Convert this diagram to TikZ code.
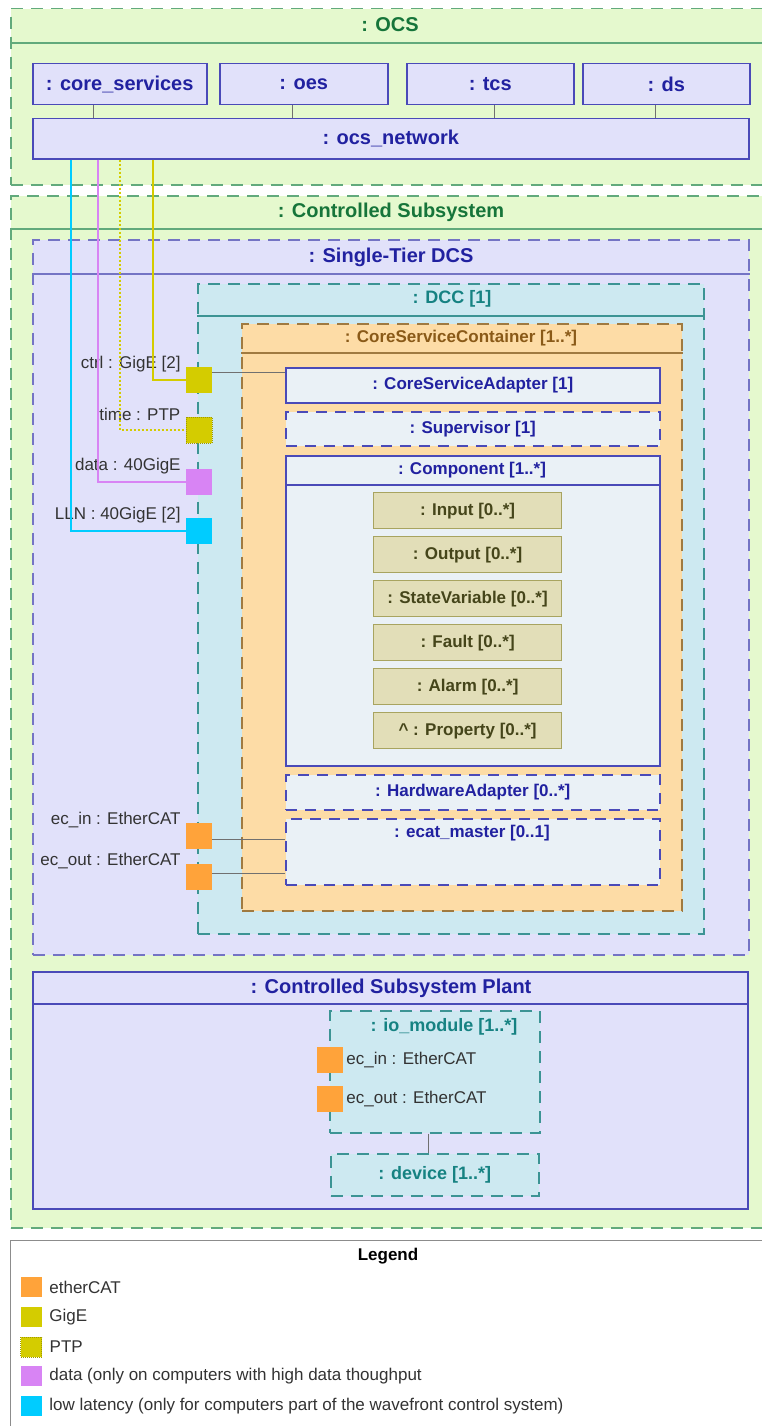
\documentclass[tikz,border=0pt]{standalone}
\usepackage{fontspec}
\setmainfont{Liberation Sans}
\usepackage{tikz}
\usetikzlibrary{positioning}

% colours
\definecolor{ocsfill}{HTML}{E5F9CE}
\definecolor{ocsedge}{HTML}{62AA7C}
\definecolor{ocstext}{HTML}{16753A}
\definecolor{dcsfill}{HTML}{E1E1FA}
\definecolor{dcsedge}{HTML}{7474C4}
\definecolor{dcstext}{HTML}{2121A0}
\definecolor{dccfill}{HTML}{CDE9F1}
\definecolor{dccedge}{HTML}{3C9494}
\definecolor{dcctext}{HTML}{168282}
\definecolor{cscfill}{HTML}{FDDCA6}
\definecolor{cscedge}{HTML}{A07A40}
\definecolor{csctext}{HTML}{8A5A18}
\definecolor{partfill}{HTML}{EAF1F6}
\definecolor{partedge}{HTML}{4A4AB8}
\definecolor{propfill}{HTML}{E2DEB8}
\definecolor{propedge}{HTML}{A8A460}
\definecolor{proptext}{HTML}{45451A}
\definecolor{gigecol}{HTML}{D4CC00}
\definecolor{datacol}{HTML}{D884F4}
\definecolor{llncol}{HTML}{00CCFF}
\definecolor{ecatcol}{HTML}{FFA33A}
\definecolor{linkgrey}{HTML}{707070}
\definecolor{lbltext}{HTML}{333333}
\definecolor{legedge}{HTML}{8C8C8C}

% fonts
\newcommand{\ttltop}{\bfseries\fontsize{20}{24}\selectfont}
\newcommand{\ttlmid}{\bfseries\fontsize{17}{20}\selectfont}
\newcommand{\ttlteal}{\bfseries\fontsize{18}{21}\selectfont}
\newcommand{\lblfont}{\fontsize{17}{20}\selectfont}

\begin{document}
\begin{tikzpicture}[x=1pt,y=-1pt,
	boxframe/.style={rectangle,anchor=north west,inner sep=0pt,line width=1.5pt},
	dashframe/.style={boxframe,dash pattern=on 12pt off 8pt},
	ocsframe/.style={dashframe,draw=ocsedge,fill=ocsfill},
	dcsframe/.style={dashframe,draw=dcsedge,fill=dcsfill},
	dccframe/.style={dashframe,draw=dccedge,fill=dccfill},
	cscframe/.style={dashframe,draw=cscedge,fill=cscfill},
	toppart/.style={boxframe,draw=partedge,fill=dcsfill,text=dcstext,font=\ttltop},
	partbox/.style={boxframe,draw=partedge,fill=partfill,text=dcstext,font=\ttlmid},
	partdash/.style={partbox,dash pattern=on 11pt off 8pt},
	propbox/.style={boxframe,line width=1.2pt,draw=propedge,fill=propfill,text=proptext,font=\ttlmid,minimum width=188pt,minimum height=36pt},
	portsq/.style={rectangle,inner sep=0pt,minimum size=26pt},
	portlbl/.style={inner sep=0pt,text=lbltext,font=\lblfont},
	link/.style={draw=linkgrey,line width=1pt},
	gigeline/.style={draw=gigecol,line width=2.5pt},
	ptpline/.style={draw=gigecol,line width=2.5pt,dash pattern=on 2pt off 2pt},
	dataline/.style={draw=datacol,line width=2.5pt},
	llnline/.style={draw=llncol,line width=2.5pt},
	keysq/.style={rectangle,inner sep=0pt,minimum width=21pt,minimum height=20pt},
	ecatkey/.style={fill=ecatcol},
	gigekey/.style={fill=gigecol},
	ptpkey/.style={fill=gigecol,draw=gigecol!75!black,densely dotted,line width=1pt},
	datakey/.style={fill=datacol},
	llnkey/.style={fill=llncol}]

	\useasboundingbox (0,0) rectangle (761,1426);

	% OCS

	\node[ocsframe,minimum width=758pt,minimum height=176pt] (ocs) at (10,8) {};
	\draw[ocsedge,line width=1.5pt] ([yshift=-35pt]ocs.north west) -- ([yshift=-35pt]ocs.north east);
	\node[font=\ttltop,text=ocstext] (ocstitle) at (390,25) {: OCS};

	\node[toppart,minimum width=174pt,minimum height=41pt] (core) at (32,63) {: core\_services};
	\node[toppart,minimum width=168pt,minimum height=41pt] (oes) at (219,63) {: oes};
	\node[toppart,minimum width=167pt,minimum height=41pt] (tcs) at (406,63) {: tcs};
	\node[toppart,minimum width=167pt,minimum height=41pt] (ds) at (582,63) {: ds};
	\node[toppart,minimum width=716pt,minimum height=40pt] (net) at (32,118) {: ocs\_network};

	\draw[link] (93,0 |- core.south) -- (93,0 |- net.north);
	\draw[link] (292,0 |- oes.south) -- (292,0 |- net.north);
	\draw[link] (494,0 |- tcs.south) -- (494,0 |- net.north);
	\draw[link] (655,0 |- ds.south) -- (655,0 |- net.north);

	% Controlled Subsystem

	\node[ocsframe,minimum width=758pt,minimum height=1032pt] (ctrlsub) at (10,195) {};
	\draw[ocsedge,line width=1.5pt] ([yshift=-34pt]ctrlsub.north west) -- ([yshift=-34pt]ctrlsub.north east);
	\node[font=\ttltop,text=ocstext] (ctrlsubtitle) at (391,212) {: Controlled Subsystem};

	% Single-Tier DCS

	\node[dcsframe,minimum width=716pt,minimum height=715pt] (dcs) at (32,239) {};
	\draw[dcsedge,line width=1.5pt] ([yshift=-35pt]dcs.north west) -- ([yshift=-35pt]dcs.north east);
	\node[font=\ttltop,text=dcstext] (dcstitle) at (391,257) {: Single-Tier DCS};

	\node[dccframe,minimum width=506pt,minimum height=650pt] (dcc) at (197,283) {};
	\draw[dccedge,line width=1.5pt] ([yshift=-33pt]dcc.north west) -- ([yshift=-33pt]dcc.north east);
	\node[font=\ttlteal,text=dcctext] (dcctitle) at (452,299) {: DCC [1]};

	\node[cscframe,minimum width=440pt,minimum height=587pt] (csc) at (241,323) {};
	\draw[cscedge,line width=1.5pt] ([yshift=-30pt]csc.north west) -- ([yshift=-30pt]csc.north east);
	\node[font=\ttlmid,text=csctext] (csctitle) at (461,338) {: CoreServiceContainer [1..*]};

	\node[partbox,minimum width=374pt,minimum height=35pt] (csa) at (285,367) {: CoreServiceAdapter [1]};
	\node[partdash,minimum width=374pt,minimum height=34pt] (sup) at (285,411) {: Supervisor [1]};

	\node[partbox,minimum width=374pt,minimum height=310pt] (comp) at (285,455) {};
	\draw[partedge,line width=1.5pt] ([yshift=-30pt]comp.north west) -- ([yshift=-30pt]comp.north east);
	\node[font=\ttlmid,text=dcstext] (comptitle) at (472,470) {: Component [1..*]};

	\foreach \t [count=\i from 0] in {: Input [0..*], : Output [0..*], : StateVariable [0..*], : Fault [0..*], : Alarm [0..*], \textasciicircum{} : Property [0..*]}
		\node[propbox] (prop\i) at (373,492+44*\i) {\t};

	\node[partdash,minimum width=374pt,minimum height=35pt] (hwa) at (285,774) {: HardwareAdapter [0..*]};
	\node[partdash,minimum width=374pt,minimum height=66pt] (ecat) at (285,818) {};
	\node[font=\ttlmid,text=dcstext] (ecattitle) at (472,833) {: ecat\_master [0..1]};

	% ports of the DCC

	\node[portsq,fill=gigecol] (ctrl) at (199,380) {};
	\node[portsq,fill=gigecol,draw=gigecol!75!black,densely dotted,line width=1pt] (time) at (199,430) {};
	\node[portsq,fill=datacol] (data) at (199,482) {};
	\node[portsq,fill=llncol] (lln) at (199,531) {};
	\node[portsq,fill=ecatcol] (ecin) at (199,836) {};
	\node[portsq,fill=ecatcol] (ecout) at (199,877) {};

	\node[portlbl,left=5pt of ctrl.north west,yshift=2.5pt] (ctrllbl) {ctrl : GigE [2]};
	\node[portlbl,left=5pt of time.north west,yshift=2.5pt] (timelbl) {time : PTP};
	\node[portlbl,left=5pt of data.north west,yshift=2.5pt] (datalbl) {data : 40GigE};
	\node[portlbl,left=5pt of lln.north west,yshift=2.5pt] (llnlbl) {LLN : 40GigE [2]};
	\node[portlbl,left=5pt of ecin.north west,yshift=3pt] (ecinlbl) {ec\_in : EtherCAT};
	\node[portlbl,left=5pt of ecout.north west,yshift=3pt] (ecoutlbl) {ec\_out : EtherCAT};

	% network links

	\draw[llnline] (71,0 |- net.south) |- (lln);
	\draw[dataline] (98,0 |- net.south) |- (data);
	\draw[ptpline] (120,0 |- net.south) |- (time);
	\draw[gigeline] (153,0 |- net.south) |- (ctrl);

	\node[portsq,fill=gigecol] at (ctrl) {};
	\node[portsq,fill=gigecol,draw=gigecol!75!black,densely dotted,line width=1pt] at (time) {};
	\node[portsq,fill=datacol] at (data) {};
	\node[portsq,fill=llncol] at (lln) {};

	\coordinate (ctrlout) at ([yshift=8pt]ctrl.east);
	\coordinate (ecinout) at ([yshift=-3pt]ecin.east);
	\coordinate (ecoutout) at ([yshift=4pt]ecout.east);
	\draw[link] (ctrlout) -- (ctrlout -| csa.west);
	\draw[link] (ecinout) -- (ecinout -| ecat.west);
	\draw[link] (ecoutout) -- (ecoutout -| ecat.west);

	% Controlled Subsystem Plant

	\node[boxframe,draw=partedge,fill=dcsfill,minimum width=715pt,minimum height=237pt] (plant) at (32,971) {};
	\draw[partedge,line width=1.5pt] ([yshift=-33pt]plant.north west) -- ([yshift=-33pt]plant.north east);
	\node[font=\ttltop,text=dcstext] (planttitle) at (391,988) {: Controlled Subsystem Plant};

	\node[dccframe,minimum width=210pt,minimum height=122pt] (io) at (329,1010) {};
	\node[font=\ttlteal,text=dcctext] (iotitle) at (444,1027) {: io\_module [1..*]};
	\node[dccframe,minimum width=208pt,minimum height=42pt,font=\ttlteal,text=dcctext] (dev) at (330,1153) {: device [1..*]};
	\draw[link] ([xshift=-6pt]io.south) -- ([xshift=-6pt]dev.north);

	\node[portsq,fill=ecatcol] (ioin) at (330,1060) {};
	\node[portsq,fill=ecatcol] (ioout) at (330,1099) {};
	\node[portlbl,right=3pt of ioin] (ioinlbl) {ec\_in : EtherCAT};
	\node[portlbl,right=3pt of ioout] (iooutlbl) {ec\_out : EtherCAT};

	% legend

	\node[boxframe,draw=legedge,line width=1pt,fill=white,minimum width=760pt,minimum height=195pt] (legend) at (10,1240) {};
	\node[font=\ttlmid,text=black] (legtitle) at (388,1256) {Legend};
	\foreach \y/\s/\t [count=\i] in {1287/ecatkey/etherCAT, 1317/gigekey/GigE, 1347/ptpkey/PTP, 1376/datakey/data (only on computers with high data thoughput, 1406/llnkey/low latency (only for computers part of the wavefront control system)}
	{
		\node[keysq,\s] (key\i) at (31,\y) {};
		\node[portlbl,right=7.5pt of key\i] (keytext\i) {\t};
	}

\end{tikzpicture}
\end{document}
